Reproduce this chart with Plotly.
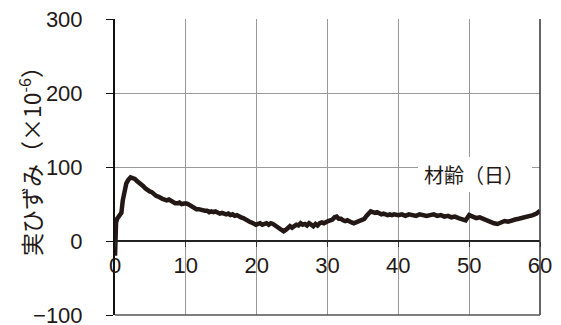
import plotly.graph_objects as go

days = [0, 0.05, 0.15, 0.3, 0.6, 0.9, 1.1, 1.3, 1.6, 1.9, 2.2, 2.5, 2.8, 3.1, 3.4, 3.7,
        4.0, 4.3, 4.6, 4.9, 5.2, 5.5, 5.8, 6.1, 6.4, 6.7, 7.0, 7.3, 7.6, 7.9, 8.2, 8.5,
        8.8, 9.1, 9.4, 9.7, 10.0, 10.3, 10.6, 10.9, 11.2, 11.5, 11.8, 12.1, 12.4, 12.7,
        13.0, 13.3, 13.6, 13.9, 14.2, 14.5, 14.8, 15.1, 15.4, 15.7, 16.0, 16.3, 16.6,
        16.9, 17.2, 17.5, 17.8, 18.1, 18.4, 18.7, 19.0, 19.3, 19.6, 19.9, 20.2, 20.5,
        20.8, 21.1, 21.4, 21.7, 22.0, 22.3, 22.6, 22.9, 23.2, 23.5, 23.8, 24.1, 24.4,
        24.7, 25.0, 25.3, 25.6, 25.9, 26.2, 26.5, 26.8, 27.1, 27.4, 27.7, 28.0, 28.3,
        28.6, 28.9, 29.2, 29.5, 29.8, 30.1, 30.4, 30.7, 31.0, 31.3, 31.6, 31.9, 32.2,
        32.5, 32.8, 33.1, 33.4, 33.7, 34.0, 34.3, 34.6, 34.9, 35.2, 35.5, 35.8, 36.1,
        36.4, 36.7, 37.0, 37.3, 37.6, 37.9, 38.2, 38.5, 38.8, 39.1, 39.4, 39.7, 40.0,
        40.5, 41.0, 41.5, 42.0, 42.5, 43.0, 43.5, 44.0, 44.5, 45.0, 45.5, 46.0, 46.5,
        47.0, 47.5, 48.0, 48.5, 49.0, 49.5, 50.0, 50.5, 51.0, 51.5, 52.0, 52.5, 53.0,
        53.5, 54.0, 54.5, 55.0, 55.5, 56.0, 56.5, 57.0, 57.5, 58.0, 58.5, 59.0, 59.5,
        60.0]
strain = [-20, 5, 25, 30, 33, 38, 55, 68, 78, 83, 86, 85, 84, 81, 79, 76,
          74, 71, 68, 67, 66, 63, 61, 60, 58, 57, 56, 55, 56, 54, 52, 51,
          51, 52, 50, 51, 51, 50, 48, 46, 44, 43, 43, 42, 42, 41,
          41, 39, 40, 39, 40, 39, 37, 38, 37, 36, 37, 35, 36,
          34, 35, 33, 32, 31, 29, 28, 26, 25, 24, 22, 23, 24,
          22, 23, 24, 22, 24, 23, 21, 19, 18, 16, 13, 15, 18,
          20, 18, 20, 22, 21, 24, 22, 23, 21, 24, 22, 20, 23,
          21, 24, 25, 24, 26, 27, 28, 29, 32, 33, 30, 30, 28,
          27, 28, 26, 25, 24, 25, 27, 28, 29, 30, 34, 38, 40,
          39, 38, 39, 37, 36, 37, 36, 35, 36, 35, 36, 35, 35,
          36, 34, 36, 35, 34, 36, 35, 34, 35, 36, 34, 35, 33,
          34, 32, 33, 31, 30, 28, 35, 33, 31, 32, 30, 28, 25,
          24, 23, 25, 27, 26, 28, 29, 30, 31, 33, 33, 35, 37,
          41]

x_ticks = [0, 10, 20, 30, 40, 50, 60]
y_ticks = [-100, 0, 100, 200, 300]
y_tick_text = ["−100", "0", "100", "200", "300"]
y_title = "実ひずみ（×10<sup>-6</sup>）"
x_title = "材齢（日）"

NUM_FONT = "Liberation Sans, Arial, sans-serif"
JP_FONT = "Noto Sans CJK JP"
INK = "#231815"

fig = go.Figure()
fig.add_trace(go.Scatter(x=days, y=strain, mode="lines",
                         line=dict(color=INK, width=4.5),
                         showlegend=False, hoverinfo="skip"))

fig.update_layout(
    width=561, height=325,
    margin=dict(l=115, r=21, t=19, b=10, autoexpand=False),
    paper_bgcolor="white", plot_bgcolor="white",
    xaxis=dict(range=[0, 60], tickvals=x_ticks, anchor="free", position=0.25,
               automargin=False,
               showgrid=True, gridcolor="#999999", gridwidth=1,
               showline=True, linecolor="#222222", linewidth=1.5,
               ticks="outside", ticklen=5, tickcolor="#333333", tickwidth=1,
               ticklabeloverflow="allow",
               tickfont=dict(family=NUM_FONT, size=22, color=INK),
               zeroline=False),
    yaxis=dict(range=[-100, 300], tickvals=y_ticks, ticktext=y_tick_text,
               automargin=False,
               showgrid=True, gridcolor="#999999", gridwidth=1,
               showline=True, linecolor="#111111", linewidth=2,
               ticks="outside", ticklen=7, tickcolor="#111111", tickwidth=1,
               ticklabelstandoff=19, ticklabeloverflow="allow",
               tickfont=dict(family=NUM_FONT, size=22, color=INK),
               zeroline=False),
)

# border lines: right (dark) and bottom (dark grey)
fig.add_shape(type="line", xref="x domain", yref="y domain", x0=1, x1=1, y0=0, y1=1,
              line=dict(color="#333333", width=1.5))
fig.add_shape(type="line", xref="x domain", yref="y domain", x0=0, x1=1, y0=0, y1=0,
              line=dict(color="#555555", width=1.5))

# white box behind x-axis title
fig.add_shape(type="rect", xref="paper", yref="paper",
              x0=(418 - 115) / 425, x1=(532 - 115) / 425,
              y0=(315 - 192) / 296, y1=(315 - 157) / 296,
              fillcolor="white", line=dict(width=0), layer="above")
fig.add_annotation(text=x_title, xref="paper", yref="paper",
                   x=(474 - 115) / 425, y=(315 - 175) / 296,
                   xanchor="center", yanchor="middle", showarrow=False,
                   font=dict(family=JP_FONT, size=20, color=INK))

fig.add_annotation(text=y_title, xref="paper", yref="paper",
                   x=(30 - 115) / 425, y=(315 - 156) / 296, textangle=-90,
                   xanchor="center", yanchor="middle", showarrow=False,
                   font=dict(family=JP_FONT, size=23, color=INK))

fig.write_html("out.html")
